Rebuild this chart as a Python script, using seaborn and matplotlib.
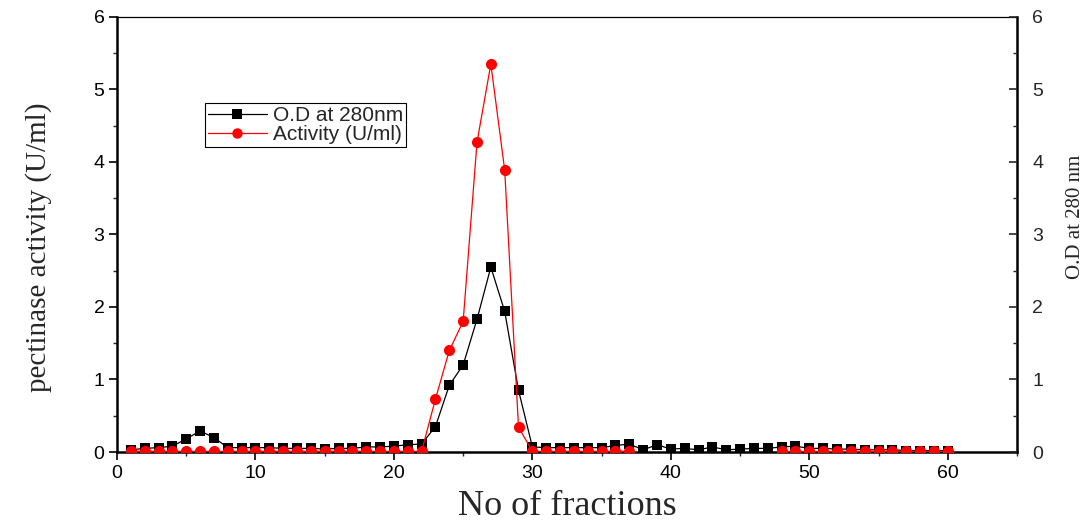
import numpy as np
import pandas as pd
import matplotlib
matplotlib.use("Agg")
import matplotlib.pyplot as plt
from matplotlib.ticker import MultipleLocator
from matplotlib.lines import Line2D
import seaborn as sns

sns.set_theme(style="ticks")
plt.rcParams["font.family"] = ["Liberation Sans", "DejaVu Sans"]

# ----------------------------------------------------------------------
# data
# ----------------------------------------------------------------------
fractions = list(range(1, 61))
od_280 = [0.03, 0.05, 0.06, 0.08, 0.18, 0.29, 0.20, 0.06, 0.06, 0.06,
          0.06, 0.05, 0.05, 0.05, 0.04, 0.05, 0.05, 0.07, 0.07, 0.08,
          0.10, 0.11, 0.35, 0.92, 1.20, 1.83, 2.55, 1.94, 0.85, 0.07,
          0.06, 0.06, 0.06, 0.06, 0.06, 0.09, 0.11, 0.03, 0.10, 0.04,
          0.05, 0.03, 0.07, 0.03, 0.04, 0.05, 0.05, 0.07, 0.08, 0.05,
          0.05, 0.04, 0.04, 0.03, 0.03, 0.03, 0.02, 0.02, 0.02, 0.02]
activity = [0.01] * 22 + [0.73, 1.40, 1.80, 4.27, 5.35, 3.89, 0.34] + \
           [0.01] * 8 + [np.nan] * 10 + [0.01] * 13

df = pd.DataFrame({"fraction": fractions, "od": od_280, "activity": activity})
# break the activity line where values are missing
df["seg"] = df["activity"].isna().cumsum()
act = df.dropna(subset=["activity"])

fig = plt.figure(figsize=(10.86, 5.24), dpi=100)
ax = fig.add_axes([0.1077, 0.1374, 0.8288, 0.8302])

sns.lineplot(data=df, x="fraction", y="od", ax=ax, color="black",
             linewidth=0.9, marker="s", markersize=7.5, markeredgewidth=0,
             markerfacecolor="black", estimator=None, zorder=3)
sns.lineplot(data=act, x="fraction", y="activity", units="seg", ax=ax,
             color="red", linewidth=0.9, marker="o", markersize=8,
             markeredgewidth=0, markerfacecolor="red", estimator=None,
             zorder=4)

ax.set_xlim(0, 65)
ax.set_ylim(0, 6)
ax.xaxis.set_major_locator(MultipleLocator(10))
ax.xaxis.set_minor_locator(MultipleLocator(5))
ax.yaxis.set_major_locator(MultipleLocator(1))
ax.yaxis.set_minor_locator(MultipleLocator(0.5))
ax.set_xticks([0, 10, 20, 30, 40, 50, 60])
ax.tick_params(axis="both", which="major", direction="out", length=6,
               width=1.2, labelsize=14, colors="black", pad=3)
ax.tick_params(axis="both", which="minor", direction="out", length=3,
               width=1.0)
ax.tick_params(top=False, right=False)

for s in ["left", "bottom", "right"]:
    ax.spines[s].set_linewidth(1.8)
    ax.spines[s].set_color("black")
ax.spines["top"].set_linewidth(0.9)
ax.spines["top"].set_color("black")

ax.set_xlabel("No of fractions", family="Liberation Serif", fontsize=26,
              labelpad=6)
ax.set_ylabel("pectinase activity (U/ml)", family="Liberation Serif",
              fontsize=21, labelpad=30)
ax.yaxis.label.set_y(0.47)

ax2 = ax.twinx()
ax2.set_ylim(0, 6)
ax2.yaxis.set_major_locator(MultipleLocator(1))
ax2.yaxis.set_minor_locator(MultipleLocator(0.5))
ax2.tick_params(axis="y", which="major", direction="in", length=6,
                width=1.2, labelsize=14, pad=11)
ax2.tick_params(axis="y", which="minor", direction="in", length=3, width=1.0)
for s in ax2.spines.values():
    s.set_visible(False)
ax2.set_ylabel("O.D at 280 nm", family="Liberation Serif", fontsize=15,
               labelpad=16)
ax2.yaxis.label.set_y(0.54)

handles = [
    Line2D([], [], color="black", linewidth=0.9, marker="s", markersize=7,
           markeredgewidth=0),
    Line2D([], [], color="red", linewidth=0.9, marker="o", markersize=7.5,
           markeredgewidth=0),
]
leg = ax.legend(handles, ["O.D at 280nm", "Activity (U/ml)"],
                loc="upper left", bbox_to_anchor=(0.098, 0.802),
                borderaxespad=0, fontsize=15, handlelength=2.8,
                handletextpad=0.3, labelspacing=0.0, borderpad=0.15,
                fancybox=False, framealpha=1, edgecolor="black")
leg.get_frame().set_linewidth(0.8)

fig.savefig("out.png", dpi=100)
